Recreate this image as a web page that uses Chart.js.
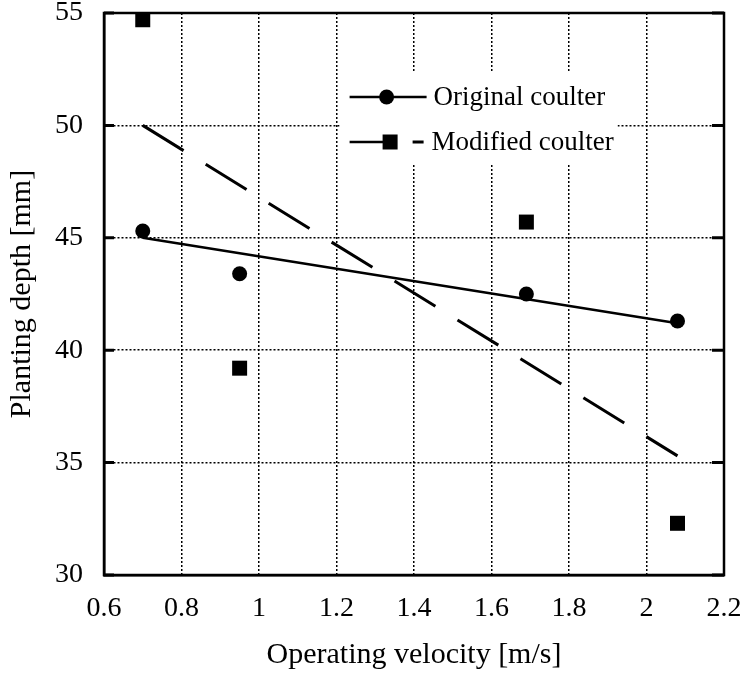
<!DOCTYPE html>
<html>
<head>
<meta charset="utf-8">
<script src="https://cdn.jsdelivr.net/npm/chart.js@4"></script>
<style>
  html, body { margin: 0; padding: 0; background: #fff; }
  #wrap { width: 747px; height: 675px; }
</style>
</head>
<body>
<div id="wrap"><canvas id="depthChart"></canvas></div>
<script>
// data
const velocities = [0.70, 0.95, 1.69, 2.08];
const originalDepth = [45.3, 43.4, 42.5, 41.3];
const modifiedDepth = [54.7, 39.2, 45.7, 32.3];
// regression line end points
const fitVelocity = [0.70, 2.08];
const originalFit = [45.0, 41.2];
const modifiedFit = [50.0, 35.3];
const seriesNames = ['Original coulter', 'Modified coulter'];

const serif = 'Liberation Serif, Times New Roman, serif';
const pts = (xs, ys) => xs.map((x, i) => ({ x: x, y: ys[i] }));

// frame round the plot + small inward ticks on the y axis
const framePlugin = {
    id: 'frame',
    afterDraw(chart) {
        const { ctx, chartArea: a, scales } = chart;
        ctx.save();
        ctx.strokeStyle = '#000';
        ctx.lineWidth = 2.5;
        ctx.strokeRect(a.left, a.top, a.right - a.left, a.bottom - a.top);
        ctx.lineWidth = 3;
        scales.y.ticks.forEach(t => {
            const y = scales.y.getPixelForValue(t.value);
            ctx.beginPath();
            ctx.moveTo(a.left, y); ctx.lineTo(a.left + 10, y);
            ctx.moveTo(a.right, y); ctx.lineTo(a.right - 12, y);
            ctx.stroke();
        });
        ctx.restore();
    }
};

// legend drawn inside the plot, with a white box behind it
const insideLegend = {
    id: 'insideLegend',
    afterDatasetsDraw(chart) {
        const { ctx, chartArea: a } = chart;
        const w = a.right - a.left;
        const bx = a.left + w * 0.38, by = a.top + 59;
        ctx.save();
        ctx.fillStyle = '#fff';
        ctx.fillRect(bx, by, 278, 93);
        ctx.fillStyle = '#000';
        ctx.strokeStyle = '#000';
        ctx.font = '27px ' + serif;
        ctx.textBaseline = 'middle';
        const lx = bx + 10;
        // row 1
        let y = by + 25;
        ctx.lineWidth = 2.5;
        ctx.beginPath(); ctx.moveTo(lx, y); ctx.lineTo(lx + 77, y); ctx.stroke();
        ctx.beginPath(); ctx.arc(lx + 37, y, 7.5, 0, Math.PI * 2); ctx.fill();
        ctx.fillText(seriesNames[0], lx + 84, y + 1);
        // row 2
        y = by + 70;
        ctx.beginPath(); ctx.moveTo(lx, y); ctx.lineTo(lx + 36, y); ctx.stroke();
        ctx.fillRect(lx + 33, y - 7.5, 15, 15);
        ctx.lineWidth = 3;
        ctx.beginPath(); ctx.moveTo(lx + 63, y); ctx.lineTo(lx + 74, y); ctx.stroke();
        ctx.fillText(seriesNames[1], lx + 82, y + 1);
        ctx.restore();
    }
};

const ctx = document.getElementById('depthChart').getContext('2d');
new Chart(ctx, {
    type: 'scatter',
    data: {
        datasets: [
            {
                label: seriesNames[0],
                data: pts(velocities, originalDepth),
                pointStyle: 'circle',
                pointRadius: 7.5,
                backgroundColor: '#000',
                borderColor: '#000',
                borderWidth: 0
            },
            {
                label: seriesNames[1],
                data: pts(velocities, modifiedDepth),
                pointStyle: 'rect',
                pointRadius: 10.6,
                backgroundColor: '#000',
                borderColor: '#000',
                borderWidth: 0
            },
            {
                label: 'Original fit',
                data: pts(fitVelocity, originalFit),
                showLine: true,
                pointRadius: 0,
                borderColor: '#000',
                borderWidth: 2.5
            },
            {
                label: 'Modified fit',
                data: pts(fitVelocity, modifiedFit),
                showLine: true,
                pointRadius: 0,
                borderColor: '#000',
                borderWidth: 3,
                borderDash: [48, 26]
            }
        ]
    },
    options: {
        responsive: true,
        maintainAspectRatio: false,
        animation: false,
        layout: { padding: { top: 13, right: 23, left: 0, bottom: 0 } },
        plugins: {
            legend: { display: false },
            tooltip: { enabled: false }
        },
        scales: {
            x: {
                type: 'linear',
                min: 0.6,
                max: 2.2,
                ticks: {
                    stepSize: 0.2,
                    color: '#000',
                    padding: 17,
                    maxRotation: 0,
                    font: { family: serif, size: 28 },
                    callback: v => String(Number(v.toFixed(1)))
                },
                grid: { color: '#000', lineWidth: 1.5, drawTicks: false },
                border: { display: true, color: '#000', width: 2.5, dash: [2, 2] },
                title: {
                    display: true,
                    text: 'Operating velocity [m/s]',
                    color: '#000',
                    font: { family: serif, size: 30 },
                    padding: { top: 0, bottom: 2 }
                },
                afterFit: s => { s.height = 100; s.paddingLeft = 0; s.paddingRight = 0; }
            },
            y: {
                min: 30,
                max: 55,
                ticks: {
                    stepSize: 5,
                    color: '#000',
                    padding: 21,
                    font: { family: serif, size: 28 }
                },
                grid: { color: '#000', lineWidth: 1.5, drawTicks: false },
                border: { display: true, color: '#000', width: 2.5, dash: [2, 2] },
                title: {
                    display: true,
                    text: 'Planting depth [mm]',
                    color: '#000',
                    font: { family: serif, size: 30 },
                    padding: { top: 4, bottom: 0 }
                },
                afterFit: s => { s.width = 104; s.paddingTop = 0; s.paddingBottom = 0; }
            }
        }
    },
    plugins: [framePlugin, insideLegend]
});
</script>
</body>
</html>
